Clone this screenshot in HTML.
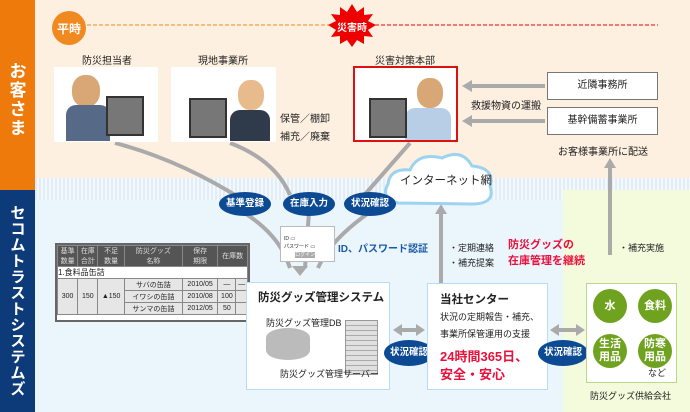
<!DOCTYPE html>
<html><head><meta charset="utf-8"><style>
*{margin:0;padding:0;box-sizing:border-box}
body{width:690px;height:412px;position:relative;overflow:hidden;font-family:"Liberation Sans","Noto Sans CJK JP",sans-serif;background:#eaf6fc;color:#222}
.a{position:absolute;white-space:nowrap}
.t{font-size:10px}
.pill{position:absolute;background:#0d4a94;color:#fff;border-radius:50%;font-size:9.5px;text-align:center;font-weight:bold}
.box{position:absolute;background:#fff;border:1px solid #999}
.g{position:absolute;background:#6fa21f;color:#fff;border-radius:50%;text-align:center;font-size:11px;font-weight:bold;display:flex;align-items:center;justify-content:center;line-height:13px}
table{border-collapse:collapse;font-size:7px}
td{border:1px solid #888;text-align:center;height:12px}
</style></head><body>
<div class="a" style="left:0;top:0;width:690px;height:180px;background:#fdf0e0"></div>
<div class="a" style="left:35px;top:178px;width:655px;height:22px;background:repeating-linear-gradient(90deg,#dfeef8 0 2px,#f4f8fa 2px 4px)"></div>
<div class="a" style="left:563px;top:190px;width:127px;height:222px;background:#f4fbdc"></div>
<div class="a" style="left:0;top:0;width:35px;height:190px;background:#ee7a0c"></div>
<div class="a" style="left:0;top:190px;width:35px;height:222px;background:#0d3a78"></div>
<div class="a" style="left:9px;top:62px;width:18px;color:#fff;font-size:17px;font-weight:bold;white-space:normal;line-height:19px;text-align:center">お客さま</div>
<div class="a" style="left:9px;top:206px;width:18px;color:#fff;font-size:15px;font-weight:bold;white-space:normal;line-height:16px;text-align:center">セコムトラストシステムズ</div>

<svg class="a" style="left:0;top:0" width="690" height="412">
<line x1="87" y1="25" x2="330" y2="25" stroke="#f08a20" stroke-dasharray="4,2"/>
<line x1="375" y1="25" x2="658" y2="25" stroke="#e00" stroke-dasharray="4,2"/>
<circle cx="69" cy="28" r="17" fill="#f08a20"/>
<polygon points="352,4 357,12 364,7 364,15 373,14 368,21 376,25 368,30 373,37 364,36 364,44 357,40 352,47 347,40 340,44 340,36 331,37 336,30 328,25 336,21 331,14 340,15 340,7 347,12" fill="#e00"/>
<g stroke="#aaa" stroke-width="4" fill="none">
<path d="M115 143 Q180 160 243 200"/>
<path d="M230 143 Q275 160 290 195"/>
<path d="M410 143 L360 200"/>
<path d="M243 212 Q280 235 290 268"/>
<path d="M309 212 L305 268"/>
<path d="M370 212 Q330 240 318 268"/>
<line x1="545" y1="86" x2="470" y2="86"/><line x1="545" y1="121" x2="470" y2="121"/>
<line x1="610" y1="255" x2="610" y2="165"/>
<line x1="441" y1="283" x2="441" y2="212"/>
<line x1="400" y1="330" x2="418" y2="330"/><line x1="557" y1="330" x2="578" y2="330"/>
</g>
<g fill="#aaa">
<polygon points="462,86 472,80 472,92"/><polygon points="462,121 472,115 472,127"/>
<polygon points="610,158 604,168 616,168"/><polygon points="441,204 435,214 447,214"/>
<polygon points="393,330 402,324 402,336"/><polygon points="425,330 416,324 416,336"/>
<polygon points="550,330 559,324 559,336"/><polygon points="585,330 576,324 576,336"/>
<polygon points="300,276 292,266 308,266"/>
</g>
<path d="M398 203 Q380 198 388 184 Q390 168 410 170 Q418 152 442 158 Q462 148 472 166 Q495 168 490 186 Q496 204 472 204 Z" fill="#fff" stroke="#9dd3f0" stroke-width="3"/>
</svg>
<div class="a" style="left:57px;top:20px;color:#fff;font-size:12px;font-weight:bold">平時</div>
<div class="a" style="left:337px;top:19px;color:#fff;font-size:10px;font-weight:bold">災害時</div>
<div class="a t" style="left:82px;top:52px">防災担当者</div>
<div class="a t" style="left:198px;top:52px">現地事業所</div>
<div class="a t" style="left:375px;top:52px">災害対策本部</div>
<div class="box" style="left:54px;top:67px;width:104px;height:75px;border:none"></div>
<div class="box" style="left:171px;top:67px;width:105px;height:75px;border:none"></div>
<div class="box" style="left:353px;top:66px;width:105px;height:76px;border:2px solid #d11"></div>
<div class="a" style="left:72px;top:75px;width:28px;height:32px;border-radius:45%;background:#d9a775"></div>
<div class="a" style="left:66px;top:105px;width:44px;height:36px;background:#566a88;border-radius:10px 10px 0 0"></div>
<div class="a" style="left:106px;top:96px;width:38px;height:40px;background:#777;border:2px solid #333"></div>
<div class="a" style="left:238px;top:80px;width:26px;height:30px;border-radius:45%;background:#e8bb8c"></div>
<div class="a" style="left:230px;top:110px;width:40px;height:31px;background:#2f3a4a;border-radius:10px 10px 0 0"></div>
<div class="a" style="left:189px;top:98px;width:38px;height:40px;background:#777;border:2px solid #333"></div>
<div class="a" style="left:417px;top:78px;width:26px;height:30px;border-radius:45%;background:#d9a775"></div>
<div class="a" style="left:405px;top:108px;width:46px;height:32px;background:#b8cde6;border-radius:10px 10px 0 0"></div>
<div class="a" style="left:369px;top:98px;width:38px;height:40px;background:#777;border:2px solid #333"></div>
<div class="a t" style="left:280px;top:110px">保管／棚卸</div>
<div class="a t" style="left:280px;top:128px">補充／廃棄</div>
<div class="box" style="left:547px;top:72px;width:111px;height:28px;font-size:10px;text-align:center;line-height:26px;border-color:#777">近隣事務所</div>
<div class="box" style="left:547px;top:107px;width:111px;height:28px;font-size:10px;text-align:center;line-height:26px;border-color:#777">基幹備蓄事業所</div>
<div class="a t" style="left:471px;top:97px">救援物資の運搬</div>
<div class="a t" style="left:558px;top:143px">お客様事業所に配送</div>
<div class="a" style="left:400px;top:172px;font-size:11.5px">インターネット網</div>
<div class="pill" style="left:219px;top:192px;width:52px;height:24px;line-height:24px">基準登録</div>
<div class="pill" style="left:283px;top:192px;width:52px;height:24px;line-height:24px">在庫入力</div>
<div class="pill" style="left:344px;top:192px;width:52px;height:24px;line-height:24px">状況確認</div>
<div class="box" style="left:280px;top:226px;width:55px;height:36px;border-color:#bbb;font-size:5px;padding:8px 3px;line-height:8px">ID ▭<br>パスワード ▭<br>&nbsp;&nbsp;&nbsp;&nbsp;&nbsp;&nbsp;&nbsp;&nbsp;<span style="background:#aaa;color:#fff">ログイン</span></div>
<div class="a" style="left:338px;top:240px;color:#1c5aa8;font-size:10px;font-weight:bold">ID、パスワード認証</div>
<div class="a" style="left:55px;top:243px;width:195px;height:79px;background:#fff;border:2px solid #666">
<table style="width:191px">
<tr style="background:#555;color:#ddd"><td style="height:19px">基準<br>数量</td><td>在庫<br>合計</td><td>不足<br>数量</td><td>防災グッズ<br>名称</td><td>保存<br>期限</td><td colspan="2">在庫数</td></tr>
<tr><td colspan="7" style="text-align:left;background:#fff;font-size:8px">1.食料品缶詰</td></tr>
<tr style="background:#e6e6e6"><td rowspan="3">300</td><td rowspan="3">150</td><td rowspan="3">▲150</td><td>サバの缶詰</td><td>2010/05</td><td>—</td><td>—</td></tr>
<tr style="background:#e6e6e6"><td>イワシの缶詰</td><td>2010/08</td><td>100</td><td></td></tr>
<tr style="background:#e6e6e6"><td>サンマの缶詰</td><td>2012/05</td><td>50</td><td></td></tr>
</table>
</div>
<div class="box" style="left:246px;top:282px;width:144px;height:108px;border-color:#b8dcf2"></div>
<div class="a" style="left:258px;top:289px;font-size:11.5px;font-weight:bold">防災グッズ管理システム</div>
<div class="a" style="left:266px;top:316px;font-size:9px">防災グッズ管理DB</div>
<div class="a" style="left:266px;top:328px;width:44px;height:32px;background:#bbb;border-radius:50%/30%"></div>
<div class="a" style="left:345px;top:320px;width:33px;height:55px;background:repeating-linear-gradient(#e0e0e0 0 4px,#aaa 4px 5px);border:1px solid #999"></div>
<div class="a" style="left:280px;top:367px;font-size:9px">防災グッズ管理サーバー</div>
<div class="pill" style="left:384px;top:340px;width:50px;height:26px;line-height:26px">状況確認</div>
<div class="box" style="left:427px;top:283px;width:121px;height:107px;border-color:#b8dcf2"></div>
<div class="a" style="left:440px;top:291px;font-size:11.5px;font-weight:bold">当社センター</div>
<div class="a" style="left:440px;top:310px;font-size:9px">状況の定期報告・補充、</div>
<div class="a" style="left:440px;top:327px;font-size:9px">事業所保管運用の支援</div>
<div class="a" style="left:440px;top:346px;font-size:13px;font-weight:bold;color:#e8103c">24時間365日、</div>
<div class="a" style="left:440px;top:364px;font-size:13px;font-weight:bold;color:#e8103c">安全・安心</div>
<div class="a" style="left:449px;top:241px;font-size:9px">・定期連絡</div>
<div class="a" style="left:449px;top:256px;font-size:9px">・補充提案</div>
<div class="a" style="left:508px;top:236px;font-size:11px;font-weight:bold;color:#e8103c">防災グッズの</div>
<div class="a" style="left:508px;top:252px;font-size:11px;font-weight:bold;color:#e8103c">在庫管理を継続</div>
<div class="a" style="left:619px;top:241px;font-size:9px">・補充実施</div>
<div class="pill" style="left:538px;top:340px;width:50px;height:26px;line-height:26px">状況確認</div>
<div class="box" style="left:586px;top:283px;width:91px;height:100px;border-color:#b9d98a"></div>
<div class="g" style="left:593px;top:289px;width:34px;height:34px">水</div>
<div class="g" style="left:638px;top:289px;width:34px;height:34px">食料</div>
<div class="g" style="left:593px;top:334px;width:34px;height:34px">生活<br>用品</div>
<div class="g" style="left:638px;top:334px;width:34px;height:34px">防寒<br>用品</div>
<div class="a" style="left:648px;top:366px;font-size:9px">など</div>
<div class="a" style="left:590px;top:389px;font-size:9px">防災グッズ供給会社</div>
</body></html>
